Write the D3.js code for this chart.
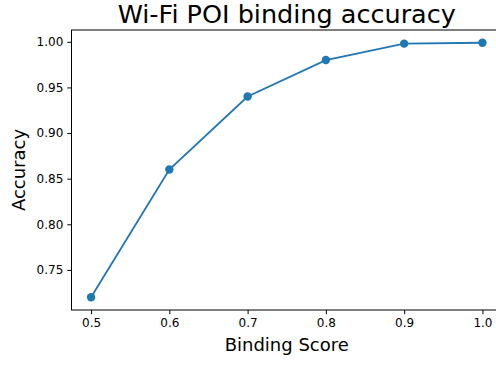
<!DOCTYPE html>
<html>
<head>
<meta charset="utf-8">
<script src="https://cdn.jsdelivr.net/npm/d3@7"></script>
<style>
  body { margin: 0; background: #fff; }
  svg text { font-family: "DejaVu Sans", sans-serif; fill: #000; }
</style>
</head>
<body>
<div id="chart"></div>
<script>
// chart data
const scores = [0.5, 0.6, 0.7, 0.8, 0.9, 1.0];
const accuracy = [0.72, 0.86, 0.94, 0.98, 0.998, 0.999];
const xTicks = [0.5, 0.6, 0.7, 0.8, 0.9, 1.0];
const yTicks = [0.75, 0.80, 0.85, 0.90, 0.95, 1.00];

const width = 496, height = 365;
const margin = { top: 30, right: -6, bottom: 55, left: 71.5 };
const plotW = width - margin.left - margin.right;
const plotH = height - margin.top - margin.bottom;
const color = '#1f77b4';

// matplotlib style 5% padding
const pad = (lo, hi) => [lo - (hi - lo) * 0.05, hi + (hi - lo) * 0.05];

const x = d3.scaleLinear()
    .domain(pad(d3.min(scores), d3.max(scores)))
    .range([0, plotW]);
const y = d3.scaleLinear()
    .domain(pad(d3.min(accuracy), d3.max(accuracy)))
    .range([plotH, 0]);

const svg = d3.select('#chart').append('svg')
    .attr('width', width)
    .attr('height', height);

const g = svg.append('g')
    .attr('transform', 'translate(' + margin.left + ',' + margin.top + ')');

const xAxis = d3.axisBottom(x)
    .tickValues(xTicks)
    .tickFormat(d3.format('.1f'))
    .tickSizeInner(4.2)
    .tickSizeOuter(0)
    .tickPadding(4);
const yAxis = d3.axisLeft(y)
    .tickValues(yTicks)
    .tickFormat(d3.format('.2f'))
    .tickSizeInner(4.2)
    .tickSizeOuter(0)
    .tickPadding(4);

const gx = g.append('g')
    .attr('transform', 'translate(0,' + plotH + ')')
    .call(xAxis);
const gy = g.append('g').call(yAxis);

[gx, gy].forEach(a => {
    a.selectAll('text').style('font-size', '12px').style('font-family', '"DejaVu Sans", sans-serif');
    a.selectAll('line').attr('stroke', '#000').attr('stroke-width', 1);
    a.select('.domain').remove();
});

// spines
g.append('rect')
    .attr('x', 0).attr('y', 0)
    .attr('width', plotW).attr('height', plotH)
    .attr('fill', 'none')
    .attr('stroke', '#000')
    .attr('stroke-width', 1);

const points = scores.map((s, i) => ({ s: s, a: accuracy[i] }));

const line = d3.line()
    .x(d => x(d.s))
    .y(d => y(d.a));

g.append('path')
    .datum(points)
    .attr('d', line)
    .attr('fill', 'none')
    .attr('stroke', color)
    .attr('stroke-width', 1.8);

g.selectAll('circle')
    .data(points)
    .enter()
    .append('circle')
    .attr('cx', d => x(d.s))
    .attr('cy', d => y(d.a))
    .attr('r', 4.2)
    .attr('fill', color);

// title and labels
svg.append('text')
    .attr('x', margin.left + plotW / 2)
    .attr('y', 23)
    .attr('text-anchor', 'middle')
    .style('font-size', '25.5px')
    .text('Wi-Fi POI binding accuracy');

svg.append('text')
    .attr('x', margin.left + plotW / 2)
    .attr('y', 351)
    .attr('text-anchor', 'middle')
    .style('font-size', '18px')
    .text('Binding Score');

svg.append('text')
    .attr('transform', 'translate(25,' + (margin.top + plotH / 2) + ') rotate(-90)')
    .attr('text-anchor', 'middle')
    .style('font-size', '18px')
    .text('Accuracy');
</script>
</body>
</html>
